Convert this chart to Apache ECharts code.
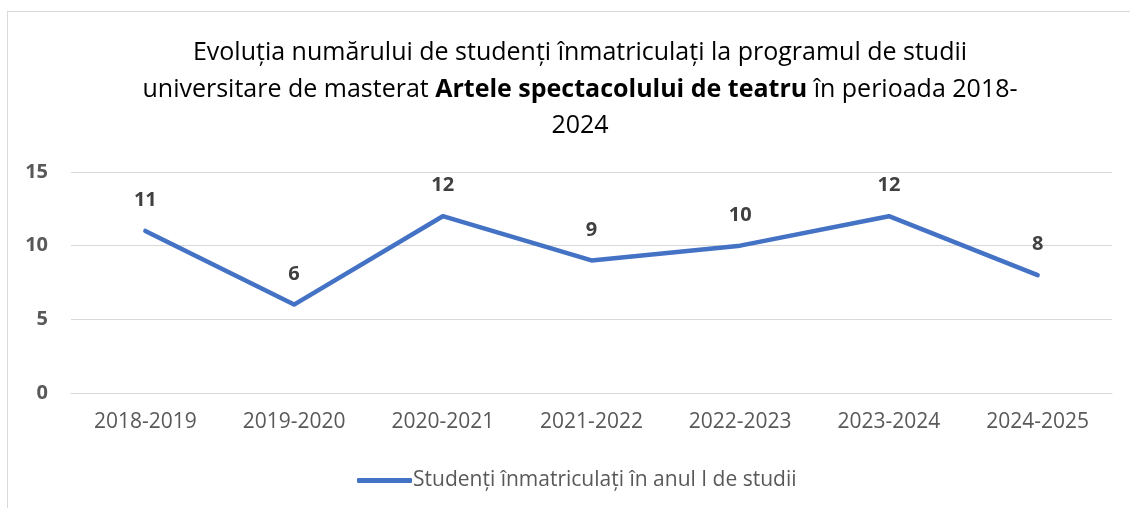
<!DOCTYPE html>
<html>
<head>
<meta charset="utf-8">
<script src="https://cdn.jsdelivr.net/npm/echarts@6/dist/echarts.min.js"></script>
<style>
  html, body { margin: 0; padding: 0; background: #fff; }
  #frame {
    position: absolute; left: 7px; top: 11px; width: 1140px; height: 520px;
    border-left: 1px solid #d9d9d9; border-top: 1px solid #d9d9d9;
  }
  #main { position: absolute; left: 0; top: 0; width: 1130px; height: 508px; }
</style>
</head>
<body>
<div id="frame"></div>
<div id="main"></div>
<script>
// date extrase din grafic
const categories = ['2018-2019', '2019-2020', '2020-2021', '2021-2022', '2022-2023', '2023-2024', '2024-2025']
const studenti = [11, 6, 12, 9, 10, 12, 8]
const seriesName = 'Studenți înmatriculați în anul I de studii'

const FONT = '"Open Sans", "Noto Sans", sans-serif'

const chart = echarts.init(document.getElementById('main'), null, { renderer: 'canvas' })

const option = {
  backgroundColor: 'transparent',
  animation: false,
  title: {
    left: 575,
    top: 30,
    textAlign: 'center',
    text: '{a|Evoluția numărului de studenți înmatriculați la programul de studii}\n' +
      '{a|universitare de masterat }{b|Artele spectacolului de teatru}{a| în perioada 2018-}\n' +
      '{a|2024}',
    textStyle: {
      fontWeight: 'normal',
      rich: {
        a: { fontFamily: FONT, fontSize: 25, color: '#000', fontWeight: 'normal', lineHeight: 36.5 },
        b: { fontFamily: FONT, fontSize: 25, color: '#000', fontWeight: 'bold', lineHeight: 36.5 }
      }
    }
  },
  grid: {
    left: 71,
    right: 18,
    top: 172,
    bottom: 115
  },
  xAxis: {
    type: 'category',
    data: categories,
    axisLine: { lineStyle: { color: '#d9d9d9', width: 1 } },
    axisTick: { show: false },
    axisLabel: {
      color: '#595959',
      fontFamily: FONT,
      fontSize: 21,
      margin: 19
    }
  },
  yAxis: {
    type: 'value',
    min: 0,
    max: 15,
    interval: 5,
    axisLine: { show: false },
    axisTick: { show: false },
    axisLabel: {
      color: '#595959',
      fontFamily: FONT,
      fontSize: 20,
      fontWeight: 'bold',
      margin: 23
    },
    splitLine: { lineStyle: { color: '#d9d9d9', width: 1 } }
  },
  legend: {
    left: 352,
    top: 465,
    icon: 'roundRect',
    itemWidth: 55,
    itemHeight: 5,
    textStyle: {
      color: '#595959',
      fontFamily: FONT,
      fontSize: 21,
      padding: [0, 0, 0, -4]
    },
    data: [seriesName]
  },
  series: [
    {
      name: seriesName,
      type: 'line',
      data: studenti,
      symbol: 'circle',
      symbolSize: 1,
      lineStyle: { color: '#4472c4', width: 4.5, cap: 'round', join: 'round' },
      itemStyle: { color: '#4472c4' },
      label: {
        show: true,
        position: 'top',
        distance: 20,
        color: '#404040',
        fontFamily: FONT,
        fontSize: 20,
        fontWeight: 'bold'
      }
    }
  ]
}

chart.setOption(option)
</script>
</body>
</html>
